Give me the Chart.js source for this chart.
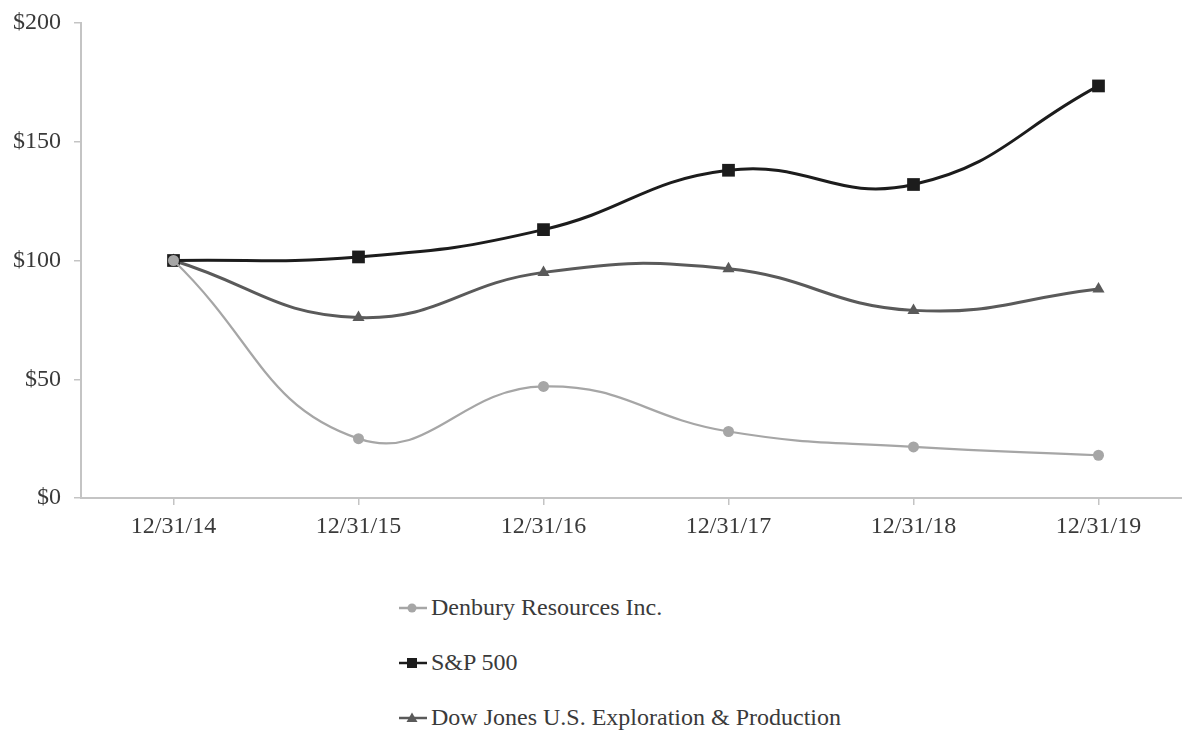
<!DOCTYPE html>
<html>
<head>
<meta charset="utf-8">
<script src="https://cdn.jsdelivr.net/npm/chart.js@4.4.0/dist/chart.umd.min.js"></script>
<style>
  html, body { margin: 0; padding: 0; background: #fff; overflow: hidden; }
  #wrap { position: relative; width: 1182px; height: 731px; overflow: hidden; }
  #myChart { position: absolute; left: 0; top: 0; }
  #legend { position: absolute; left: 398px; top: 580px; font-family: "Liberation Serif", serif; font-size: 24px; color: #3a3a3a; }
  #legend .item { display: flex; align-items: center; height: 55px; }
  #legend svg { margin-right: 3px; }
</style>
</head>
<body>
<div id="wrap">
  <canvas id="myChart" width="1194" height="560"></canvas>
  <div id="legend"></div>
</div>
<script>
const labels = ['12/31/14', '12/31/15', '12/31/16', '12/31/17', '12/31/18', '12/31/19'];
const denbury = [100, 25, 47, 28, 21.5, 18];
const sp500 = [100, 101.5, 113, 138, 132, 173.5];
const dowJones = [100, 76, 95, 96.5, 79, 88];
const yTicks = [0, 50, 100, 150, 200];

const axisColor = '#c4c4c4';
const textColor = '#3a3a3a';
const font = { family: '"Liberation Serif", serif', size: 24 };

const seriesInfo = [
  { label: 'Denbury Resources Inc.', data: denbury, color: '#a6a6a6', style: 'circle', radius: 5.5, width: 2.2 },
  { label: 'S&P 500', data: sp500, color: '#1c1c1c', style: 'rect', radius: 9, width: 3 },
  { label: 'Dow Jones U.S. Exploration & Production', data: dowJones, color: '#5a5a5a', style: 'triangle', radius: 7, width: 3 }
];

const datasets = seriesInfo.map(s => ({
  label: s.label,
  data: s.data,
  borderColor: s.color,
  backgroundColor: s.color,
  pointStyle: s.style,
  pointRadius: s.radius,
  pointBorderWidth: 0,
  borderWidth: s.width,
  tension: 0.45,
  clip: false
}));

new Chart(document.getElementById('myChart'), {
  type: 'line',
  data: { labels: labels, datasets: datasets },
  options: {
    responsive: false,
    animation: false,
    layout: { autoPadding: false, padding: { top: 23, right: 3, left: 0, bottom: 0 } },
    plugins: { legend: { display: false }, tooltip: { enabled: false } },
    scales: {
      x: {
        type: 'category',
        offset: true,
        grid: { display: true, drawOnChartArea: false, tickLength: 7, color: axisColor, lineWidth: 1.5 },
        border: { color: axisColor, width: 2 },
        ticks: { color: textColor, font: font, padding: 7, maxRotation: 0 },
        afterFit: s => { s.height = 62; s.paddingLeft = 0; s.paddingRight = 0; }
      },
      y: {
        min: 0,
        max: 200,
        afterBuildTicks: s => { s.ticks = yTicks.map(v => ({ value: v })); },
        grid: { display: true, drawOnChartArea: false, tickLength: 7, color: axisColor, lineWidth: 1.5 },
        border: { color: axisColor, width: 2 },
        ticks: { color: textColor, font: font, padding: 13, callback: v => '$' + v },
        afterFit: s => { s.width = 81; s.paddingTop = 0; s.paddingBottom = 0; }
      }
    }
  }
});

// legend, one entry per line
const legend = document.getElementById('legend');
seriesInfo.forEach(s => {
  let marker;
  if (s.style === 'circle') marker = '<circle cx="14" cy="10" r="4.5" fill="' + s.color + '"/>';
  else if (s.style === 'rect') marker = '<rect x="9" y="5" width="10" height="10" fill="' + s.color + '"/>';
  else marker = '<polygon points="14,4.5 19.5,14 8.5,14" fill="' + s.color + '"/>';
  const item = document.createElement('div');
  item.className = 'item';
  item.innerHTML = '<svg width="30" height="20"><line x1="1" y1="10" x2="29" y2="10" stroke="' + s.color +
    '" stroke-width="2.5"/>' + marker + '</svg><span>' + s.label.replace('&', '&amp;') + '</span>';
  legend.appendChild(item);
});
</script>
</body>
</html>
